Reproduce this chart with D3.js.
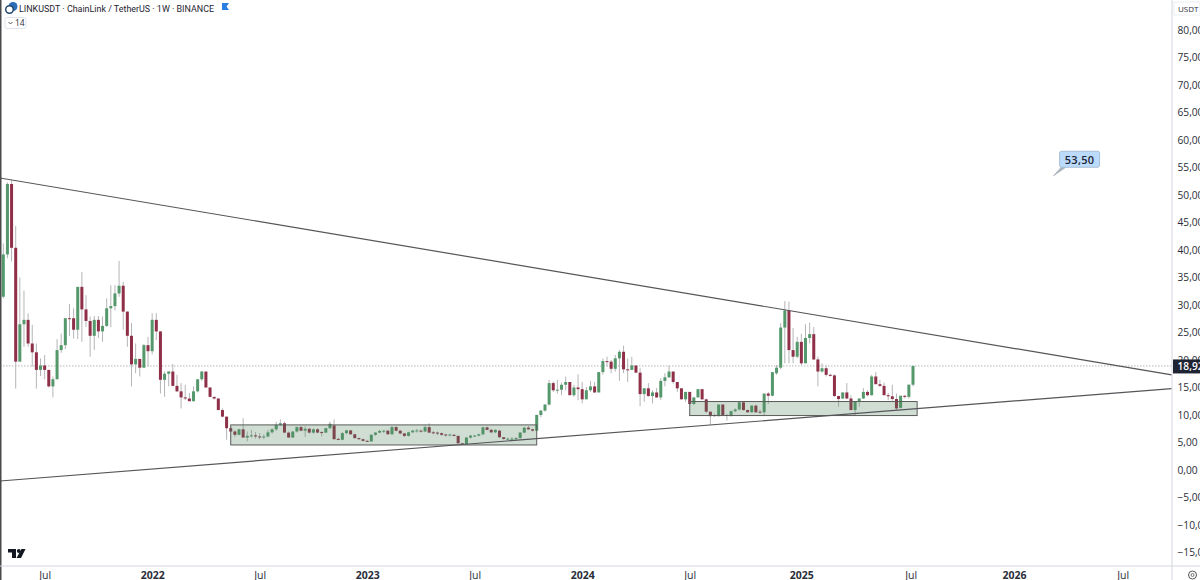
<!DOCTYPE html>
<html><head><meta charset="utf-8">
<script src="https://cdn.jsdelivr.net/npm/d3@7/dist/d3.min.js"></script>
<style>html,body{margin:0;background:#fff;overflow:hidden}svg{display:block;font-family:"Open Sans",sans-serif}</style>
</head><body><svg id="c" width="1200" height="580"></svg>
<script>
const firstWeek = "2021-04-26";
const opens = [31.5,39.2,52,40.4,19.7,26.5,27.3,23,21.4,18.2,19,18.2,15.2,16.5,21.8,22.7,27.6,27.6,25.5,33.3,29.2,27.1,24.4,27.3,25.2,26.2,29.4,29.8,32.1,33.5,28.8,24.4,19.2,20.2,18.6,22.7,21.6,27.3,25.2,16.4,17.5,17.9,15.3,14.3,13.2,13,12.5,14.3,16.5,17.9,15,13.3,13,10.9,9.7,7.6,7,6.4,7.4,5.9,6.2,6.3,6.1,5.95,6.1,6.85,7.4,8.2,8.5,6.8,5.9,7,7.8,7.15,7.5,6.8,7.4,6.9,6.8,7.6,8.1,5.65,5.5,6.7,7.2,6.5,5.8,5.6,5.3,5.2,6.4,6.8,7.1,7.15,6.5,7.8,7.15,6.65,6.2,6.85,7.15,7.15,7,7.8,6.85,6.8,6.7,6.45,6.4,6.4,6.2,4.85,4.7,5.9,6.2,6.25,6.5,7.75,7.3,6.85,7.15,5.95,5.65,5.7,5.7,5.8,6.8,7.7,7.4,7.15,10,10.8,11.9,15.8,14.5,14.6,15.5,16,13.6,15,14.7,12.85,14.5,15.2,14.1,17.8,19.8,19.7,18.4,20.3,21.5,18.3,18.2,19,17.7,13.8,14.85,13.45,14.1,13.2,16.2,16.85,17.9,16,14.85,12.85,14.2,12,13.2,14.7,12.85,10.6,10,9.8,11.9,10,9.9,10.7,11,12.3,10.9,10.5,11.7,10.6,10.5,13.9,13.5,17.6,18.6,25.9,29,21.8,20.6,23.3,19.4,24,24.7,20.1,17.9,18.5,17.3,17.2,13.45,13,14.1,13,10.9,12.5,13,14.2,13.6,17,15.6,15.3,13.6,13.4,12.9,11.3,13.5,13.3,15.5];
const highs = [41.2,52.3,52.7,44.4,35,32.6,28.5,26.4,23,20.3,20.9,18.2,17,23.8,24.8,27.6,30.2,29.4,33.3,36,31.8,27.9,28,28,27.9,31.2,33.6,33.6,38,34.2,28.8,26.7,23,20.2,22.9,24.2,28.5,28.5,25.2,17.9,18,19.3,17.3,15.8,15.5,14,15.2,16.5,18,17.9,15,13.3,13,11.2,9.7,7.8,7.3,7.5,9.4,7,7.3,6.9,6.7,6.5,7.3,7.6,8.8,9.2,8.8,7,7,7.9,8,8,7.7,7.6,7.6,7.1,7.7,8.8,9.2,5.9,6.9,7.3,7.3,6.6,5.9,5.7,5.5,6.5,6.9,7.3,7.3,7.3,8,8,7.2,6.7,6.95,7.3,7.5,7.4,8.1,8.5,7.1,7,6.8,6.6,6.6,6.5,6.3,5,6,6.4,6.4,6.6,7.9,7.9,7.5,7.4,7.3,6,5.9,6,6,6.9,7.8,8,7.5,10.1,10.9,12,16.4,16.1,16.4,15.9,17,16,15.5,17.4,16,15.1,16.2,16,17.8,20.3,20.6,20,20.9,21.8,22.6,20.3,20.6,19,18.5,14.9,15.8,14.5,14.9,16.7,17.6,19,17.9,16,14.85,14.2,14.2,13.2,14.7,14.7,13,10.6,10.2,11.9,12,10.2,10.8,11.2,12.4,12.4,11,11.8,11.9,11,13.9,14.2,17.8,19.1,26.7,30.7,30.6,25.8,24.2,24.8,26.5,26.8,26,20.6,19.4,19,17.5,17.4,13.5,14.1,15.8,13.6,12.5,13,14.9,14.5,17.3,17.8,16.4,15.9,14,15.5,13.9,13.5,13.6,15.6,18.95];
const lows = [31.2,38.5,37.9,14.8,19.7,22.4,22.4,18.8,14.8,17.1,16.5,15,13.2,16.5,21.3,22,24.4,23.9,23.8,23.3,26,20.6,21.8,24,23.3,26,26,29,31.5,25.5,22.4,15.2,17.6,17,18.6,18.8,21,23.6,13.9,13.3,15.2,15.2,14.2,11.2,12.7,12.5,12.5,14.1,16.2,15,13.2,12.8,10.9,9.6,5.5,6.9,6,6.3,5.9,5.2,5.9,5.7,5.6,5.6,5.9,6.6,7.1,8,6.7,5.9,5.9,6.8,7,6,6.6,6.6,6.7,6.1,6.7,7.4,5.5,5.4,5.4,6.5,6.4,5.7,5.5,5.2,5.1,5.1,6.2,6.7,6.7,6.4,6.4,7,6.5,6,6.1,6.7,6.8,6.8,6.9,6.7,6.5,6.3,6.2,6.1,6.1,6.1,4.85,4.6,4.6,5.7,6,6.1,6.3,7.2,6.7,6.7,5.9,5.5,5.4,5.4,5.4,5.7,6.7,7.3,7,7.1,9.6,10.6,11.7,14.2,13.9,13.6,14.5,13.6,13.3,12.7,12.1,12.85,14.2,14,14.1,17.3,18.8,17.6,17.9,16.2,17.6,16,18.2,17.6,11.6,12.4,13.3,12.1,13.1,12.7,15.2,16.7,15.7,14.2,12.85,12.4,12,11.8,13.2,12.7,10.4,8.2,9.7,9.7,9.9,9,9.7,10.5,10.8,10.8,10.4,10.4,10.4,10.2,9.9,12,13.4,17.3,18.3,19.4,19.4,19.4,20.3,19.1,19.4,23,20,15.2,17.7,17,17,13.3,11.5,12.9,12.9,10.9,9.9,11.5,12.9,13.4,13.5,15.6,15.1,13.6,12.7,12.6,10.9,11.2,13,13,15.2];
const closes = [39.2,52,40.4,19.7,26.5,27.3,23,21.4,18.2,19,18.2,15.2,16.5,21.8,22.7,27.6,27.5,25.5,33.3,29.2,27.1,24.4,27.3,25.2,26.2,29.4,29.8,32.1,33.5,28.8,24.4,19.2,20.2,18.6,22.7,21.6,27.3,25.2,16.4,17.5,17.9,15.3,14.3,13.2,13,12.5,14.3,16.5,17.9,15,13.3,13,10.9,9.7,7.6,7,6.4,7.4,5.9,6.2,6.3,6.1,5.95,6.1,6.85,7.4,8.2,8.5,6.8,5.9,7,7.8,7.15,7.5,6.8,7.4,6.8,6.8,7.6,8.4,5.6,5.6,6.7,7.2,6.5,5.8,5.6,5.3,5.2,6.4,6.8,7.1,7.15,6.5,7.8,7.15,6.65,6.2,6.85,7.15,7.2,7,7.8,6.8,6.8,6.7,6.4,6.4,6.45,6.2,4.85,4.7,5.9,6.25,6.25,6.5,7.75,7.3,6.85,7.3,5.95,5.65,5.7,5.7,5.8,6.8,7.7,7.4,7.15,10,10.8,11.9,15.8,14.5,14.6,15.5,16,13.6,15,14.7,12.85,14.5,15.2,14.1,17.8,19.8,19.7,18.4,20.3,21.5,18.3,18.2,19,17.7,13.8,14.85,13.45,14.1,13.2,16.2,16.85,17.9,16,14.85,12.85,14.2,12,13.2,14.7,12.85,10.6,9.8,9.8,11.9,10,9.9,10.7,11,12.3,10.9,10.5,11.7,10.5,10.5,13.9,13.5,17.8,18.6,25.9,29,21.8,20.6,23.3,19.4,24,24.7,20.1,17.9,18.5,17.3,17.2,13.45,12.9,14.1,13,10.9,12.5,13,14.2,13.6,17,15.6,15.3,13.6,13.4,12.9,11.2,13.5,13.3,15.5,18.92];
const priceTicks = [80,75,70,65,60,55,50,45,40,35,30,25,20,15,10,5,0,-5,-10,-15];
const timeTicks = ["2021-07-05","2022-01-03","2022-07-04","2023-01-02","2023-07-03","2024-01-01","2024-07-01","2025-01-06","2025-07-10","2026-01-01","2026-07-04"];
const timeLabels = ["Jul","2022","Jul","2023","Jul","2024","Jul","2025","Jul","2026","Jul"];
const upperTrend = [["2021-04-20",53.1],["2026-09-25",17.3]];
const lowerTrend = [["2021-04-20",-2],["2026-09-25",14.8]];
const zones = [["2022-05-16","2023-10-16",8.2,4.55],["2024-07-01","2025-07-21",12.45,9.9]];
const lastPrice = 18.92;
const calloutPoint = ["2026-03-09",53.5];
const calloutText = "53,50";
const title = "LINKUSDT · ChainLink / TetherUS · 1W · BINANCE";

const parse = d3.utcParse("%Y-%m-%d");
const num = d3.format(".2f");
const fmt = v => num(Math.abs(v)).replace(".", ",").replace(/^/, v < 0 ? "−" : "");
const weeks = closes.map((_, i) => d3.utcWeek.offset(parse(firstWeek), i));
const X0 = 3.3, X1 = 913, paneR = 1172, paneB = 566;
const x = d3.scaleUtc().domain([weeks[0], weeks[weeks.length - 1]]).range([X0, X1]);
const y = d3.scaleLinear().domain([0, 80]).range([470, 30]);
const svg = d3.select("#c");
const defs = svg.append("defs");
defs.append("clipPath").attr("id","pane").append("rect").attr("x",0).attr("y",0).attr("width",paneR).attr("height",paneB);
const pane = svg.append("g").attr("clip-path","url(#pane)");

// last price line
pane.append("line").attr("x1",0).attr("x2",paneR).attr("y1",y(lastPrice)).attr("y2",y(lastPrice))
  .attr("stroke","#b4b4b4").attr("stroke-dasharray","1.5 1.5");

// candles
const up = "#54986b", down = "#8f2f48";
const candles = pane.append("g").selectAll("g").data(closes).join("g");
candles.append("line").attr("x1",(d,i)=>x(weeks[i])).attr("x2",(d,i)=>x(weeks[i]))
  .attr("y1",(d,i)=>y(highs[i])).attr("y2",(d,i)=>y(lows[i])).attr("stroke","#b5b5b8").attr("stroke-width",1);
candles.append("rect").attr("x",(d,i)=>x(weeks[i])-1.5).attr("width",3)
  .attr("y",(d,i)=>y(Math.max(opens[i],closes[i])))
  .attr("height",(d,i)=>Math.max(1,Math.abs(y(opens[i])-y(closes[i]))))
  .attr("fill",(d,i)=>closes[i]>=opens[i]?up:down);

// zones
pane.append("g").selectAll("rect").data(zones).join("rect")
  .attr("x",d=>x(parse(d[0]))).attr("width",d=>x(parse(d[1]))-x(parse(d[0])))
  .attr("y",d=>y(d[2])).attr("height",d=>y(d[3])-y(d[2]))
  .attr("fill","rgba(76,130,88,0.27)").attr("stroke","#5a5c5a").attr("stroke-width",1);

// trend lines
const tl = d3.line().x(d=>x(parse(d[0]))).y(d=>y(d[1]));
pane.append("g").selectAll("path").data([upperTrend,lowerTrend]).join("path")
  .attr("d",tl).attr("fill","none").attr("stroke","#55555a").attr("stroke-width",1.2);

// callout
const cx = x(parse(calloutPoint[0])), cy = y(calloutPoint[1]);
const call = pane.append("g");
call.append("path").attr("d",`M${cx},${cy} L${cx+8},${cy-9} L${cx+13},${cy-9} Z`).attr("fill","#a9b3bd").attr("stroke","#a9b3bd").attr("stroke-width",.8);
call.append("rect").attr("x",cx+6).attr("y",cy-24.5).attr("width",40).attr("height",16).attr("rx",2)
  .attr("fill","#bbdafc").attr("stroke","#a6bfd4");
call.append("text").attr("x",cx+26).attr("y",cy-12).attr("text-anchor","middle").attr("font-size",11).attr("font-weight",600)
  .attr("letter-spacing",.3).attr("fill","#1c2433").text(calloutText);

// frame
svg.append("rect").attr("x",0).attr("y",0).attr("width",1.5).attr("height",580).attr("fill","#4a4a4a");

// axes
const yAxis = d3.axisRight(y).tickValues(priceTicks).tickSize(0).tickPadding(5.5).tickFormat(fmt);
const yg = svg.append("g").attr("transform",`translate(${paneR},0)`).call(yAxis);
yg.select(".domain").attr("stroke","#d3d6dc").attr("d",`M0,0V580`);
yg.selectAll("text").attr("font-size",10.2).attr("font-family",'"Open Sans",sans-serif').attr("fill","#2a2e39");
const xAxis = d3.axisBottom(x).tickValues(timeTicks.map(parse)).tickSize(0).tickPadding(6).tickFormat((d,i)=>timeLabels[i]);
const xg = svg.append("g").attr("transform",`translate(0,${paneB})`).call(xAxis);
xg.select(".domain").attr("stroke","#d3d6dc").attr("d","M0,0H1200");
xg.selectAll("text").attr("font-size",10.5).attr("font-family",'"Open Sans",sans-serif').attr("fill","#2a2e39")
  .attr("font-weight",(d,i)=>/^\d/.test(timeLabels[i])?700:400);

// last price tag
const tagY = y(lastPrice);
svg.append("rect").attr("x",paneR+1).attr("y",tagY-6.5).attr("width",28).attr("height",14).attr("fill","#1f2433");
svg.append("text").attr("x",1177.5).attr("y",tagY+4.2).attr("font-size",10.2).attr("font-weight",600).attr("fill","#fff").text(fmt(lastPrice));

// USDT unit box
svg.append("rect").attr("x",1174).attr("y",2).attr("width",26).attr("height",13).attr("fill","#fff").attr("stroke","#eceef1");
svg.append("text").attr("x",1178).attr("y",12).attr("font-size",8).attr("fill","#2a2e39").text("USDT");

// gear
svg.append("circle").attr("cx",1192.5).attr("cy",575).attr("r",4).attr("fill","none").attr("stroke","#555").attr("stroke-width",1);
svg.append("circle").attr("cx",1192.5).attr("cy",575).attr("r",1.5).attr("fill","none").attr("stroke","#555").attr("stroke-width",.8);

// legend
const ic = svg.append("g");
ic.append("circle").attr("cx",13).attr("cy",6.5).attr("r",4.5).attr("fill","#2a6fb8");
ic.append("circle").attr("cx",9.5).attr("cy",9.5).attr("r",3.8).attr("fill","#fff").attr("stroke","#24476e").attr("stroke-width",1.5);
svg.append("text").attr("x",19).attr("y",11.5).attr("font-size",9.2).attr("fill","#1f2430").attr("font-family","Roboto,sans-serif")
  .attr("textLength",195).attr("lengthAdjust","spacingAndGlyphs").text(title);
svg.append("path").attr("d","M222,3H229L226.5,6.5L229,10H222Z").attr("fill","#2a7de1");
svg.append("rect").attr("x",5).attr("y",17.5).attr("width",21).attr("height",11).attr("rx",2).attr("fill","#fff").attr("stroke","#e0e3eb");
svg.append("path").attr("d","M8.5,22L10.5,24L12.5,22").attr("fill","none").attr("stroke","#444").attr("stroke-width",.9);
svg.append("text").attr("x",15).attr("y",26).attr("font-size",8.5).attr("fill","#2a2e39").text("14");

// logo
svg.append("path").attr("fill","#131722").attr("d","M8,549H16V558H12V552.5H8Z M21.5,549H25.5L21,558H16.5Z");
svg.append("circle").attr("cx",18.8).attr("cy",551).attr("r",1.9).attr("fill","#131722");
</script></body></html>
